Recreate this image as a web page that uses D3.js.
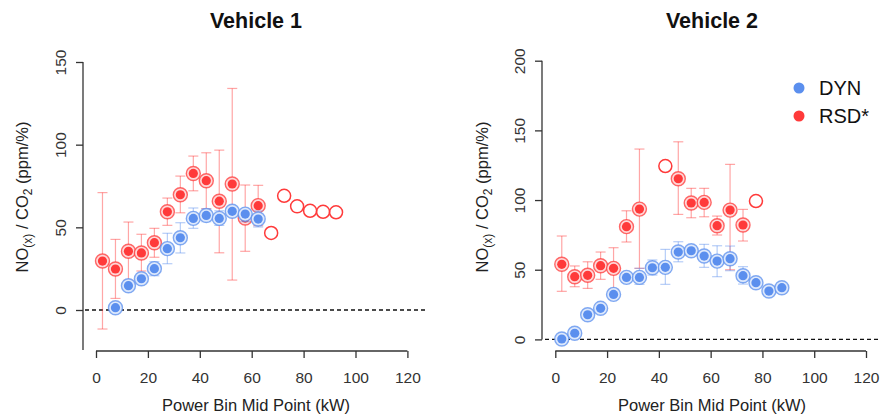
<!DOCTYPE html>
<html>
<head>
<meta charset="utf-8">
<script src="https://cdn.jsdelivr.net/npm/d3@7"></script>
<style>
  html, body { margin: 0; padding: 0; background: #fff; }
  svg { display: block; font-family: "Liberation Sans", Arial, sans-serif; }
</style>
</head>
<body>
<svg id="chart" width="880" height="414"></svg>
<script>
// ---------- DATA ----------
const xTicks = [0, 20, 40, 60, 80, 100, 120];
const yTicksV1 = [0, 50, 100, 150];
const yTicksV2 = [0, 50, 100, 150, 200];

// Vehicle 1
const v1DynX   = [7.5, 12.5, 17.5, 22.5, 27.5, 32.5, 37.5, 42.5, 47.5, 52.5, 57.5, 62.5];
const v1DynY   = [1.4, 14.7, 18.9, 25.0, 37.1, 43.7, 55.4, 57.2, 55.4, 59.7, 58.0, 55.0];
const v1DynLo  = [null, null, null, 20.7, 28.0, 34.5, 49.4, 53.4, 51.2, null, 53.4, 50.2];
const v1DynHi  = [null, null, null, 29.2, 46.4, 52.8, 61.7, 61.1, 60.0, null, 60.3, 59.9];

const v1RsdX   = [2.5, 7.5, 12.5, 17.5, 22.5, 27.5, 32.5, 37.5, 42.5, 47.5, 52.5, 57.5, 62.5];
const v1RsdY   = [29.6, 24.8, 35.5, 34.5, 40.7, 59.4, 69.7, 82.6, 78.2, 65.8, 76.2, 55.6, 63.1];
const v1RsdLo  = [-11.5, 7.0, 18.0, 23.6, 31.9, 51.2, 58.8, 72.1, 61.3, 34.6, 18.1, 35.5, 51.0];
const v1RsdHi  = [71.0, 42.7, 53.2, 45.8, 49.4, 67.7, 81.0, 93.1, 95.1, 96.7, 134.0, 75.6, 75.4];
const v1RsdOpenX = [67.5, 72.5, 77.5, 82.5, 87.5, 92.5];
const v1RsdOpenY = [46.6, 69.1, 62.7, 60.0, 59.4, 59.1];

// Vehicle 2
const v2DynX   = [2.5, 7.5, 12.5, 17.5, 22.5, 27.5, 32.5, 37.5, 42.5, 47.5, 52.5, 57.5, 62.5, 67.5, 72.5, 77.5, 82.5, 87.5];
const v2DynY   = [0.3, 4.4, 17.7, 22.3, 32.3, 44.5, 44.5, 51.4, 51.7, 62.7, 63.6, 59.8, 56.2, 57.9, 45.7, 40.7, 34.7, 37.1];
const v2DynLo  = [null, null, null, null, null, null, 39.5, 46.2, 39.5, 55.7, null, 51.7, 45.0, 49.3, 39.7, null, null, 33.5];
const v2DynHi  = [null, null, null, null, null, null, 51.0, 57.0, 64.6, 70.1, null, 68.2, 67.2, 67.0, 52.2, null, null, 40.2];

const v2RsdX   = [2.5, 7.5, 12.5, 17.5, 22.5, 27.5, 32.5, 47.5, 52.5, 57.5, 62.5, 67.5, 72.5];
const v2RsdY   = [53.9, 45.0, 46.0, 52.9, 51.0, 80.9, 93.5, 115.3, 97.9, 98.3, 81.6, 92.8, 82.1];
const v2RsdLo  = [34.5, 37.8, 36.6, 43.1, 36.0, 69.9, 51.0, 89.7, 87.3, 88.0, 74.9, 50.0, 70.6];
const v2RsdHi  = [74.2, 52.7, 55.7, 62.7, 65.8, 92.3, 136.6, 141.8, 108.4, 108.4, 88.5, 125.6, 93.3];
const v2RsdOpenX = [42.5, 77.5];
const v2RsdOpenY = [124.4, 99.3];

const legendLabels = ["DYN", "RSD*"];

// ---------- STYLE ----------
const BLUE = "#5b8fee", BLUE_LIGHT = "rgba(91,143,238,0.45)";
const RED = "#ff3a3a", RED_LIGHT = "rgba(255,58,58,0.45)";
const AXIS = "#333";

const svg = d3.select("#chart");

function zipPts(xs, ys, lo, hi) {
  return xs.map((x, i) => ({ x, y: ys[i], lo: lo ? lo[i] : null, hi: hi ? hi[i] : null }));
}

function panel(cfg) {
  const g = svg.append("g");
  const x = d3.scaleLinear().domain([0, 120]).range(cfg.xRange);
  const y = d3.scaleLinear().domain([0, cfg.yMax]).range(cfg.yRange);

  // title
  g.append("text").attr("x", cfg.titleX).attr("y", 28)
    .attr("text-anchor", "middle").attr("font-weight", "bold")
    .attr("font-size", 21.5).attr("fill", "#111").text(cfg.title);

  // y axis
  const yAxis = d3.axisLeft(y).tickValues(cfg.yTicks).tickSize(7).tickSizeOuter(0).tickFormat(d3.format("d"));
  const ya = g.append("g").attr("transform", `translate(${cfg.axisX},0)`).call(yAxis);
  ya.select(".domain").remove();
  ya.selectAll(".tick line").attr("stroke", AXIS).attr("stroke-width", 1.3);
  ya.selectAll(".tick text").attr("font-size", 15.5).attr("fill", "#333")
    .attr("x", null).attr("dy", null)
    .attr("transform", "translate(-17,0) rotate(-90)")
    .attr("text-anchor", "middle").attr("dominant-baseline", "auto");
  g.append("line").attr("x1", cfg.axisX).attr("x2", cfg.axisX)
    .attr("y1", y(cfg.yTicks[cfg.yTicks.length - 1])).attr("y2", cfg.yAxisBottom)
    .attr("stroke", AXIS).attr("stroke-width", 1.3);

  // x axis
  const xAxis = d3.axisBottom(x).tickValues(xTicks).tickSize(7).tickSizeOuter(0);
  const xa = g.append("g").attr("transform", `translate(0,${cfg.xAxisY})`).call(xAxis);
  xa.select(".domain").attr("stroke", AXIS).attr("stroke-width", 1.3)
    .attr("d", `M${x(0)},0H${x(120)}`);
  xa.selectAll(".tick line").attr("stroke", AXIS).attr("stroke-width", 1.3);
  xa.selectAll(".tick text").attr("font-size", 15.5).attr("fill", "#333").attr("y", 21).attr("dy", "0.71em");

  // axis titles
  g.append("text").attr("x", cfg.titleX).attr("y", 411)
    .attr("text-anchor", "middle").attr("font-size", 16.5).attr("fill", "#222")
    .text("Power Bin Mid Point (kW)");
  const yl = g.append("text")
    .attr("transform", `translate(${cfg.yLabelX},197) rotate(-90)`)
    .attr("text-anchor", "middle").attr("font-size", 16.5).attr("fill", "#222");
  yl.append("tspan").text("NO");
  yl.append("tspan").attr("font-size", 12).attr("dy", 4).text("(x)");
  yl.append("tspan").attr("dy", -4).text(" / CO");
  yl.append("tspan").attr("font-size", 12).attr("dy", 4).text("2");
  yl.append("tspan").attr("dy", -4).text(" (ppm/%)");

  // zero line
  g.append("line").attr("x1", cfg.plotX[0]).attr("x2", cfg.plotX[1])
    .attr("y1", y(0)).attr("y2", y(0))
    .attr("stroke", "#111").attr("stroke-width", 1.3).attr("stroke-dasharray", "4,3");

  function series(pts, col, light) {
    const eb = g.append("g");
    pts.filter(d => d.lo != null).forEach(d => {
      const cx = x(d.x);
      eb.append("line").attr("x1", cx).attr("x2", cx).attr("y1", y(d.lo)).attr("y2", y(d.hi))
        .attr("stroke", light).attr("stroke-width", 1.2);
      [d.lo, d.hi].forEach(v => eb.append("line").attr("x1", cx - 5).attr("x2", cx + 5)
        .attr("y1", y(v)).attr("y2", y(v)).attr("stroke", light).attr("stroke-width", 1.2));
    });
    const pg = g.append("g");
    pg.selectAll("circle.o").data(pts).join("circle").attr("class", "o")
      .attr("cx", d => x(d.x)).attr("cy", d => y(d.y)).attr("r", 7)
      .attr("fill", "#fff").attr("stroke", col).attr("stroke-opacity", 0.75).attr("stroke-width", 1.4);
    pg.selectAll("circle.m").data(pts).join("circle").attr("class", "m")
      .attr("cx", d => x(d.x)).attr("cy", d => y(d.y)).attr("r", 7)
      .attr("fill", col).attr("fill-opacity", 0.2);
    pg.selectAll("circle.i").data(pts).join("circle").attr("class", "i")
      .attr("cx", d => x(d.x)).attr("cy", d => y(d.y)).attr("r", 4.6)
      .attr("fill", col);
  }

  series(cfg.rsd, RED, RED_LIGHT);
  g.append("g").selectAll("circle").data(cfg.rsdOpen).join("circle")
    .attr("cx", d => x(d.x)).attr("cy", d => y(d.y)).attr("r", 6.5)
    .attr("fill", "none").attr("stroke", RED).attr("stroke-width", 1.5);
  series(cfg.dyn, BLUE, BLUE_LIGHT);
}

panel({
  title: "Vehicle 1", titleX: 256,
  xRange: [96, 407.4], yMax: 150, yRange: [310, 62],
  yTicks: yTicksV1, axisX: 83, yAxisBottom: 350, xAxisY: 351,
  yLabelX: 28, plotX: [85, 428],
  dyn: zipPts(v1DynX, v1DynY, v1DynLo, v1DynHi),
  rsd: zipPts(v1RsdX, v1RsdY, v1RsdLo, v1RsdHi),
  rsdOpen: zipPts(v1RsdOpenX, v1RsdOpenY)
});

panel({
  title: "Vehicle 2", titleX: 712,
  xRange: [555.3, 866], yMax: 200, yRange: [339.4, 60.7],
  yTicks: yTicksV2, axisX: 542, yAxisBottom: 339.4, xAxisY: 351,
  yLabelX: 488, plotX: [545, 880],
  dyn: zipPts(v2DynX, v2DynY, v2DynLo, v2DynHi),
  rsd: zipPts(v2RsdX, v2RsdY, v2RsdLo, v2RsdHi),
  rsdOpen: zipPts(v2RsdOpenX, v2RsdOpenY)
});

// legend
const lg = svg.append("g");
[BLUE, RED].forEach((c, i) => {
  lg.append("circle").attr("cx", 799).attr("cy", 88 + i * 28).attr("r", 5.5).attr("fill", c);
  lg.append("text").attr("x", 819).attr("y", 95 + i * 28).attr("font-size", 20).attr("fill", "#111")
    .text(legendLabels[i]);
});
</script>
</body>
</html>
